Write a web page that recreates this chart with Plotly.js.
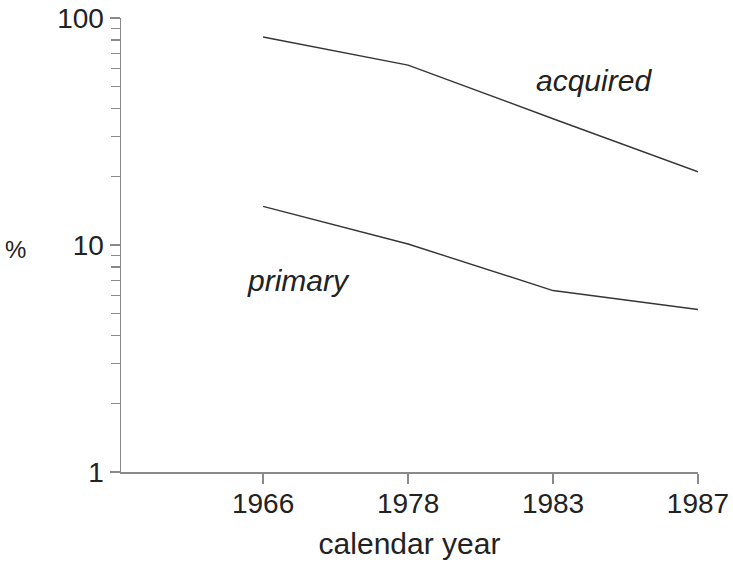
<!DOCTYPE html>
<html>
<head>
<meta charset="utf-8">
<script src="https://cdn.plot.ly/plotly-3.0.1.min.js"></script>
<style>
  html, body { margin: 0; padding: 0; background: #fff; }
  #chart { width: 733px; height: 562px; }
</style>
</head>
<body>
<div id="chart"></div>
<script>
// Calendar years shown on the x axis (evenly spaced categories)
const years = ['1966', '1978', '1983', '1987'];

// Percentages per year, log scale
const acquired = [82.5, 62, 36, 21];
const primary = [14.8, 10.1, 6.3, 5.2];

// Y axis labels and minor tick positions
const yTickVals = [1, 10, 100];
const yTickText = ['1', '10', '100'];
const yMinorVals = [2, 3, 4, 5, 6, 7, 8, 9, 20, 30, 40, 50, 60, 70, 80, 90];

const lineStyle = { color: '#353535', width: 1.4 };
const axisColor = '#8a8a8a';
const textColor = '#222222';
const fontFamily = 'Liberation Sans, Arial, Helvetica, sans-serif';

const traces = [
  { x: years, y: acquired, type: 'scatter', mode: 'lines', line: lineStyle, name: 'acquired', hoverinfo: 'skip' },
  { x: years, y: primary, type: 'scatter', mode: 'lines', line: lineStyle, name: 'primary', hoverinfo: 'skip' }
];

const layout = {
  width: 733,
  height: 562,
  margin: { l: 121, r: 35, t: 18, b: 90 },
  paper_bgcolor: '#ffffff',
  plot_bgcolor: '#ffffff',
  showlegend: false,
  font: { family: fontFamily, color: textColor },
  xaxis: {
    type: 'category',
    categoryorder: 'array',
    categoryarray: years,
    range: [-0.98, 3],
    showgrid: false,
    zeroline: false,
    showline: true,
    linecolor: axisColor,
    linewidth: 1.5,
    ticks: 'outside',
    ticklen: 10,
    tickwidth: 1.2,
    tickcolor: axisColor,
    ticklabelstandoff: -4,
    tickfont: { size: 28, color: textColor },
    title: { text: 'calendar year', font: { size: 30, color: textColor }, standoff: 15 }
  },
  yaxis: {
    type: 'log',
    range: [0, 2],
    showgrid: false,
    zeroline: false,
    showline: true,
    linecolor: axisColor,
    linewidth: 1.5,
    tickmode: 'array',
    tickvals: yTickVals,
    ticktext: yTickText,
    ticks: 'outside',
    ticklen: 10,
    tickwidth: 1.2,
    tickcolor: axisColor,
    ticklabelstandoff: 0,
    tickfont: { size: 28, color: textColor },
    minor: {
      tickmode: 'array',
      tickvals: yMinorVals,
      ticks: 'outside',
      ticklen: 9,
      tickwidth: 1.2,
      tickcolor: axisColor,
      showgrid: false
    }
  },
  annotations: [
    { text: 'acquired', xref: 'paper', yref: 'paper', x: 0.82, y: 0.863, showarrow: false,
      xanchor: 'center', yanchor: 'middle', font: { size: 30, style: 'italic', color: textColor } },
    { text: 'primary', xref: 'paper', yref: 'paper', x: 0.308, y: 0.421, showarrow: false,
      xanchor: 'center', yanchor: 'middle', font: { size: 30, style: 'italic', color: textColor } },
    { text: '%', xref: 'paper', yref: 'paper', x: -0.182, y: 0.489, showarrow: false,
      xanchor: 'center', yanchor: 'middle', font: { size: 24, color: textColor } }
  ]
};

Plotly.newPlot('chart', traces, layout, { staticPlot: true, displayModeBar: false });
</script>
</body>
</html>
